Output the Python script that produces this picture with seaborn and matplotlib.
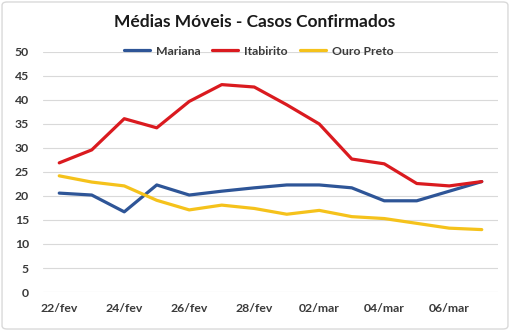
import matplotlib
matplotlib.use("Agg")
import matplotlib.pyplot as plt
import seaborn as sns
import pandas as pd
from matplotlib.patches import FancyBboxPatch

datas = ["22/fev", "23/fev", "24/fev", "25/fev", "26/fev", "27/fev", "28/fev",
         "01/mar", "02/mar", "03/mar", "04/mar", "05/mar", "06/mar", "07/mar"]
mariana = [20.6, 20.2, 16.7, 22.3, 20.2, 21.0, 21.7, 22.3, 22.3, 21.7, 19.0, 19.0, 21.0, 23.0]
itabirito = [26.9, 29.6, 36.1, 34.2, 39.7, 43.2, 42.7, 39.0, 35.0, 27.7, 26.7, 22.6, 22.1, 23.0]
ouro_preto = [24.2, 22.9, 22.1, 19.1, 17.1, 18.1, 17.4, 16.2, 17.0, 15.7, 15.3, 14.3, 13.3, 13.0]
series_names = ["Mariana", "Itabirito", "Ouro Preto"]
colors = ["#2E5597", "#DA1A1F", "#F5C21B"]
titulo = "Médias Móveis - Casos Confirmados"

df = pd.DataFrame({"data": datas, "Mariana": mariana, "Itabirito": itabirito,
                   "Ouro Preto": ouro_preto})
long = df.melt(id_vars="data", var_name="cidade", value_name="media")

sns.set_theme(style="white")
plt.rcParams["font.family"] = ["Lato", "DejaVu Sans"]

fig = plt.figure(figsize=(5.1, 3.31), dpi=100)
ax = fig.add_axes([0.0843, 0.1178, 0.8922, 0.7252])

sns.lineplot(data=long, x="data", y="media", hue="cidade", hue_order=series_names,
             palette=colors, linewidth=2.3, ax=ax, sort=False)

ax.set_xlim(-0.5, len(datas) - 0.5)
ax.set_ylim(0, 50)
ax.set_yticks(range(0, 51, 5))
ax.set_xticks(range(0, len(datas), 2))
ax.set_xticklabels(datas[::2])
ax.yaxis.grid(True, color="#D9D9D9", linewidth=0.8)
ax.set_axisbelow(True)
for s in ax.spines.values():
    s.set_visible(False)
ax.set_xlabel("")
ax.set_ylabel("")
ax.tick_params(axis="both", length=0, labelsize=8.8, colors="#3A3A3A")
ax.tick_params(axis="y", pad=10)
ax.tick_params(axis="x", pad=8)
for lbl in ax.get_xticklabels() + ax.get_yticklabels():
    lbl.set_fontweight("bold")

ax.legend(loc="lower center", bbox_to_anchor=(0.474, 0.96), ncol=3, frameon=False,
          prop={"size": 8.8, "weight": "bold"}, handlelength=2.1, columnspacing=1.0,
          handletextpad=0.5, borderaxespad=0)
for t in ax.get_legend().get_texts():
    t.set_color("#3A3A3A")

fig.text(0.5, 0.933, titulo, ha="center", va="center", fontsize=12.5,
         fontweight="bold", color="#1A1A1A")

fig.patches.append(FancyBboxPatch((0.004, 0.006), 0.992, 0.988,
                                  boxstyle="round,pad=0,rounding_size=0.01",
                                  transform=fig.transFigure, fill=False,
                                  edgecolor="#D9D9D9", linewidth=1.0))

fig.savefig("out.png", dpi=100)
